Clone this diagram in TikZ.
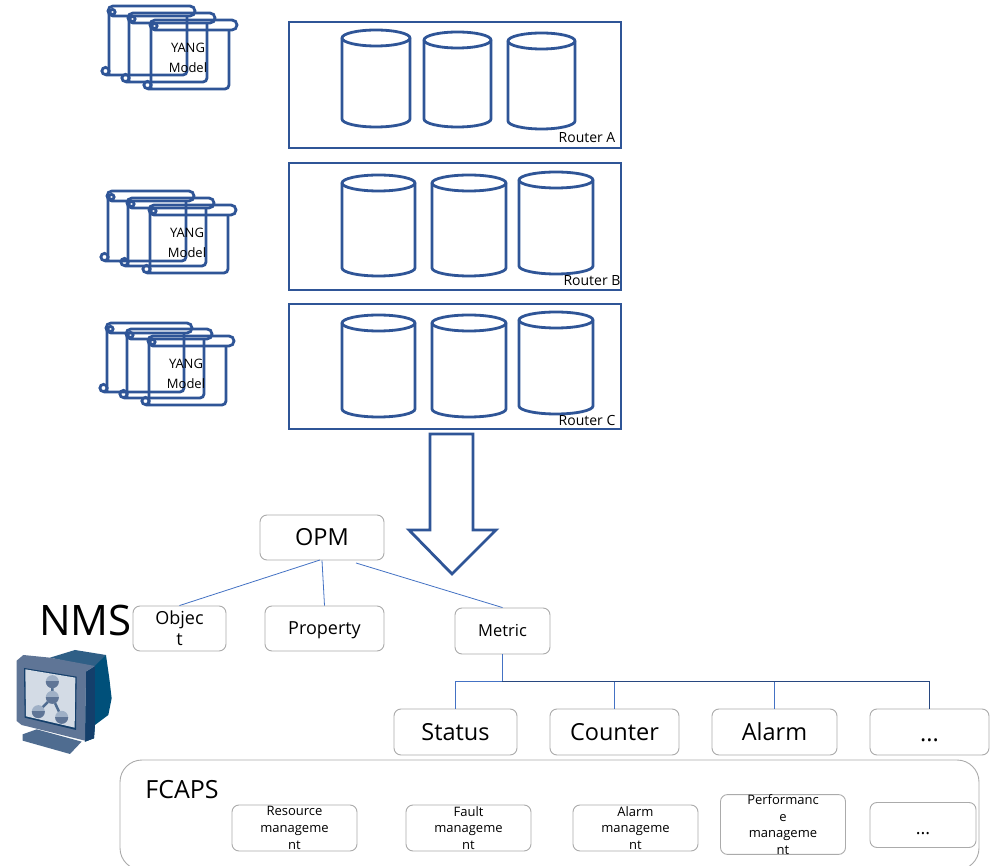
\documentclass[tikz,border=0pt]{standalone}
\usepackage{fontspec}
\setmainfont{Open Sans}
\definecolor{rblue}{HTML}{2F5597}
\definecolor{lblue}{HTML}{4472C4}
\definecolor{gbox}{HTML}{ABABAB}
\definecolor{iconA}{HTML}{5F7596}
\definecolor{iconB}{HTML}{2F5F86}
\definecolor{iconC}{HTML}{143F6B}
\definecolor{iconD}{HTML}{00507A}
\definecolor{iconE}{HTML}{4F6C90}
\definecolor{iconF}{HTML}{D3DBE5}
\definecolor{iconG}{HTML}{9FB0C6}
\newcommand{\fs}[2]{\fontsize{#1}{#2}\selectfont}
% cylinder: left, top, right, bottom
\newcommand{\drum}[4]{%
  \pgfmathsetmacro{\cxm}{(#1+#3)/2}\pgfmathsetmacro{\kxx}{(#3-#1)*0.275}
  \draw[rblue,line width=2.8pt,fill=white]
    (#1,#2+8) .. controls (#1,#2+3.6) and (\cxm-\kxx,#2) .. (\cxm,#2)
    .. controls (\cxm+\kxx,#2) and (#3,#2+3.6) .. (#3,#2+8)
    -- (#3,#4-8) .. controls (#3,#4-3.6) and (\cxm+\kxx,#4) .. (\cxm,#4)
    .. controls (\cxm-\kxx,#4) and (#1,#4-3.6) .. (#1,#4-8) -- cycle;
  \draw[rblue,line width=2.8pt]
    (#1,#2+8) .. controls (#1,#2+12.4) and (\cxm-\kxx,#2+16) .. (\cxm,#2+16)
    .. controls (\cxm+\kxx,#2+16) and (#3,#2+12.4) .. (#3,#2+8);
}
% scroll: tube-left, top, tube-right, body-bottom
\newcommand{\scrollshape}[4]{%
  \draw[rblue,line width=2.8pt,rounded corners=5pt] (#1-1,#2) rectangle (#3,#2+10);
  \draw[rblue,line width=2.8pt,rounded corners=4pt]
    (#1,#2+5) -- (#1,#4-2)
    (#1-3,#4-1) -- (#3-8,#4-1) -- (#3-8,#2+10);
  \draw[rblue,line width=2.8pt] (#1+3.5,#2+6) circle[radius=2.6];
  \draw[rblue,line width=2.8pt] (#1-3.5,#4-5) circle[radius=3.6];
}
\tikzset{
  routerbox/.style={draw=rblue,line width=2.8pt,fill=none,inner sep=0pt},
  graybox/.style={draw=gbox,line width=0.9pt,rounded corners=7pt,fill=white,inner sep=0pt,align=center},
  smalltxt/.style={font=\fs{13}{16.6}},
  midtxt/.style={font=\fs{18}{21}},
  bigtxt/.style={font=\fs{23.5}{28}},
  routertxt/.style={font=\fs{14}{16},inner sep=0pt},
  yangtxt/.style={align=center,inner sep=0pt,font=\fs{13}{19.5}},
  thinblue/.style={draw=lblue,line width=0.8pt},
  thindark/.style={draw=rblue!85!black,line width=0.8pt},
}
\begin{document}
\begin{tikzpicture}[x=1pt,y=-1pt]
\useasboundingbox (0,0) rectangle (994,866);
\fill[white] (0,0) rectangle (994,866);
% routers
\node[routerbox,minimum width=332pt,minimum height=126pt] (ra) at (455,85) {};
\node[routerbox,minimum width=332pt,minimum height=127pt] (rb) at (455,226.5) {};
\node[routerbox,minimum width=332pt,minimum height=125pt] (rc) at (455,366.5) {};
\drum{342}{30}{410}{127}\drum{424}{32}{491}{127}\drum{508}{33}{575}{129}
\drum{342}{175}{415}{276}\drum{432}{175}{506}{276}\drum{519}{172}{593}{274}
\drum{342}{315}{415}{417}\drum{432}{315}{506}{417}\drum{519}{312}{593}{414}
\node[routertxt] (la) at (587,138) {Router A};
\node[routertxt] (lb) at (592,281) {Router B};
\node[routertxt] (lc) at (587,421) {Router C};
% scrolls
\scrollshape{109}{6}{195}{76}\scrollshape{129}{13}{215}{83}\scrollshape{151}{20}{237}{90}
\scrollshape{108}{191}{194}{262}\scrollshape{128}{198}{214}{267}\scrollshape{150}{205}{236}{274}
\scrollshape{107}{323}{192}{393}\scrollshape{127}{329}{212}{399}\scrollshape{149}{336}{234}{406}
\node[yangtxt] (y1) at (188,58) {YANG\\Model};
\node[yangtxt] (y2) at (187,243) {YANG\\Model};
\node[yangtxt] (y3) at (186,374) {YANG\\Model};
% big arrow
\draw[rblue,line width=2.8pt,fill=white,line join=miter] (430,434) -- (473,434) -- (473,530) -- (496,530) -- (452,574) -- (409,530) -- (430,530) -- cycle;
% OPM tree
\node[graybox,bigtxt,minimum width=124pt,minimum height=45pt] (opm) at (322,537.5) {OPM};
\node[graybox,font=\fs{18}{21},minimum width=93pt,minimum height=45pt] (obj) at (179.5,628.5) {Objec\\t};
\node[graybox,midtxt,minimum width=119pt,minimum height=45pt] (prop) at (324.5,628.5) {\vphantom{Ag}\raisebox{-3pt}{Property}};
\node[graybox,font=\fs{16.5}{18},minimum width=95pt,minimum height=46pt] (metric) at (502.5,631) {Metric};
\coordinate (o1) at (320,560);
\coordinate (o2) at (356,563);
\draw[thinblue] (o1) -- (obj.north);
\draw[thinblue] (opm.south) -- (prop.north);
\draw[thinblue] (o2) -- (metric.north);
\node[graybox,bigtxt,minimum width=123pt,minimum height=46pt] (status) at (455.5,732) {Status};
\node[graybox,bigtxt,minimum width=129pt,minimum height=46pt] (counter) at (614.5,732) {Counter};
\node[graybox,bigtxt,minimum width=125pt,minimum height=46pt] (alarm) at (774.5,732) {Alarm};
\node[graybox,bigtxt,minimum width=119pt,minimum height=46pt] (more) at (929.5,732) {\vphantom{Ag}\raisebox{-4pt}{...}};
\coordinate (hub) at (502,681);
\draw[thinblue] (metric.south -| hub) -- (hub);
\draw[thinblue] (status.north) -- (status.north |- hub) -- (hub);
\draw[thinblue] (counter.north) -- (counter.north |- hub);
\draw[thinblue] (alarm.north) -- (alarm.north |- hub);
\draw[thindark] (hub) -- (more.north |- hub) -- (more.north);
% NMS
\node[font=\fs{42}{46},inner sep=0pt] (nms) at (85.5,620) {NMS};
% computer icon
\begin{scope}[shift={(0,590)}]
\begin{scope}[x=0.3333pt,y=-0.3333pt]
\fill[iconB] (150,203) -- (225,180) -- (318,195) -- (285,232) -- cycle;
\fill[iconD] (285,228) -- (318,195) -- (328,265) -- (335,325) -- (325,375) -- (285,405) -- (282,445) -- (255,455) -- (258,245) -- cycle;
\fill[iconC] (258,245) -- (285,228) -- (285,405) -- (282,445) -- (255,455) -- cycle;
\fill[iconE] (68,433) -- (110,418) -- (245,455) -- (210,492) -- (68,452) -- cycle;
\fill[iconA] (50,212) -- (70,195) -- (150,203) -- (285,228) -- (258,245) -- (255,452) -- (65,405) -- (50,393) -- cycle;
\fill[iconC] (72,234) -- (230,260) -- (228,420) -- (74,383) -- cycle;
\fill[iconF] (76,238) -- (226,263) -- (224,413) -- (78,379) -- cycle;
\draw[iconE,line width=2.5pt] (157,275) -- (157,322) -- (115,365) (157,322) -- (185,382);
\foreach \cxx/\cyy in {157/275,157/322,115/365,185/382}{
  \fill[iconG] (\cxx,\cyy) circle[radius=6.5pt];
  \begin{scope}
    \clip (\cxx-25,\cyy) rectangle (\cxx+25,\cyy+25);
    \fill[iconA] (\cxx,\cyy) circle[radius=6.5pt];
  \end{scope}
}
\end{scope}
\end{scope}
% FCAPS
\begin{scope}
\clip (0,0) rectangle (994,866);
\node[draw=gbox,line width=0.9pt,rounded corners=22pt,inner sep=0pt,minimum width=859pt,minimum height=110pt] (fc) at (549.5,815) {};
\end{scope}
\node[font=\fs{25}{28},inner sep=0pt] (fl) at (182,790) {FCAPS};
\node[graybox,smalltxt,minimum width=125pt,minimum height=46pt] (f1) at (294.5,828) {Resource\\manageme\\nt};
\node[graybox,smalltxt,minimum width=125pt,minimum height=46pt] (f2) at (468.5,828) {Fault\\manageme\\nt};
\node[graybox,smalltxt,minimum width=125pt,minimum height=46pt] (f3) at (635.5,828) {Alarm\\manageme\\nt};
\node[graybox,smalltxt,minimum width=125pt,minimum height=45pt] (f4) at (783,824.5) {Performanc\\e\\manageme\\nt};
\node[graybox,font=\fs{18}{20},minimum width=106pt,minimum height=45pt] (f5) at (923,825) {\vphantom{Ag}\raisebox{-6pt}{...}};
\end{tikzpicture}
\end{document}
